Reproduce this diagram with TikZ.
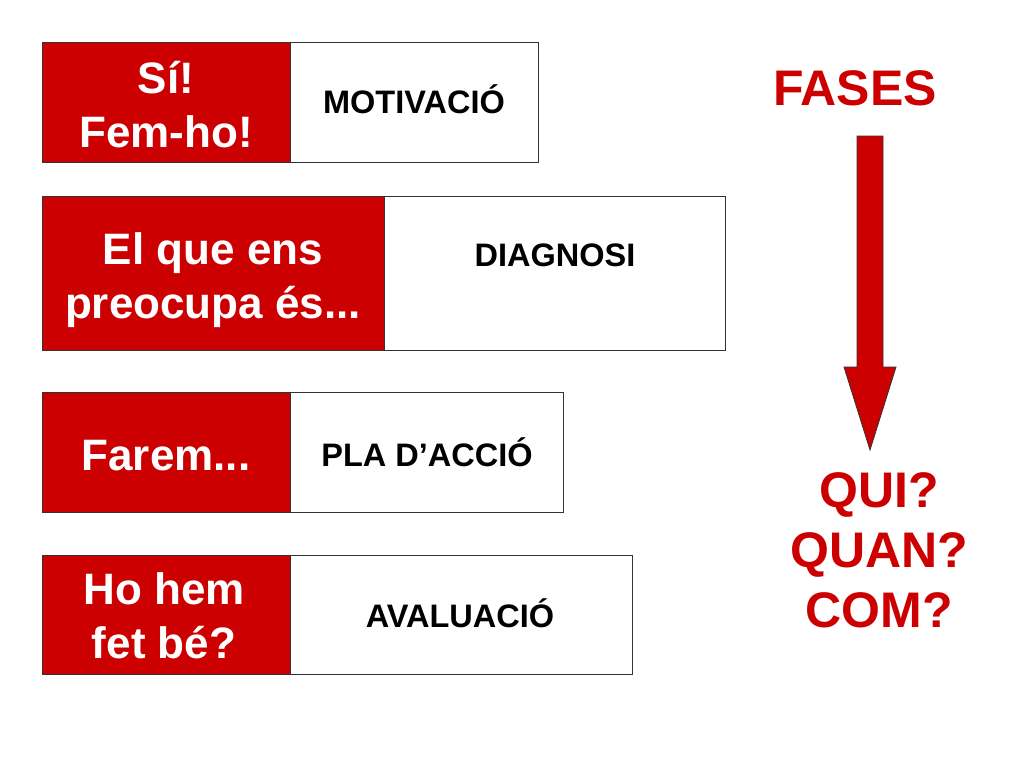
\documentclass[tikz,border=0pt]{standalone}
\usepackage{fontspec}
\setmainfont{Liberation Sans}
\definecolor{myred}{HTML}{CC0000}
\definecolor{bordergray}{HTML}{333333}
\tikzset{
  whitepart/.style={draw=bordergray, fill=white, line width=1.2pt, inner sep=0pt, anchor=north west},
  redpart/.style={draw=bordergray, fill=myred, line width=1.2pt, inner sep=0pt, anchor=north west},
  lefttext/.style={text=white, font=\bfseries\fontsize{44}{54}\selectfont, align=center, anchor=base, inner sep=0pt},
  righttext/.style={text=black, font=\bfseries\fontsize{32.5}{39}\selectfont, anchor=base, inner sep=0pt},
  bigred/.style={text=myred, font=\bfseries\fontsize{50}{60}\selectfont, align=center, anchor=base, inner sep=0pt},
  arrowshape/.style={draw=bordergray, fill=myred, line width=0.8pt, line join=miter}
}
\begin{document}
\begin{tikzpicture}[x=1pt,y=-1pt]
\useasboundingbox[fill=white] (0,0) rectangle (1024,768);

% box 1
\node[whitepart, minimum width=496pt, minimum height=120pt] (w1) at (42,42) {};
\node[redpart, minimum width=248pt, minimum height=120pt] (r1) at (42,42) {};
\node[lefttext] (t1) at (166,147) {Sí!\\Fem-ho!};
\node[righttext] (m1) at (414,113) {MOTIVACIÓ};

% box 2
\node[whitepart, minimum width=683pt, minimum height=154pt] (w2) at (42,196) {};
\node[redpart, minimum width=342pt, minimum height=154pt] (r2) at (42,196) {};
\node[lefttext] (t2) at (213,318) {El que ens\\preocupa és...};
\node[righttext] (m2) at (555,266) {DIAGNOSI};

% box 3
\node[whitepart, minimum width=521pt, minimum height=120pt] (w3) at (42,392) {};
\node[redpart, minimum width=248pt, minimum height=120pt] (r3) at (42,392) {};
\node[lefttext] (t3) at (166,470) {Farem...};
\node[righttext] (m3) at (427,466) {PLA D’ACCIÓ};

% box 4
\node[whitepart, minimum width=590pt, minimum height=119pt] (w4) at (42,555) {};
\node[redpart, minimum width=248pt, minimum height=119pt] (r4) at (42,555) {};
\node[lefttext] (t4) at (164,658) {Ho hem\\fet bé?};
\node[righttext] (m4) at (460,627) {AVALUACIÓ};

% right column
\node[bigred] (fases) at (855,105) {FASES};
\draw[arrowshape] (857,136) -- (883,136) -- (883,367) -- (896,367) -- (870,450) -- (844,367) -- (857,367) -- cycle;
\node[bigred] (qui) at (879,627) {QUI?\\QUAN?\\COM?};
\end{tikzpicture}
\end{document}
